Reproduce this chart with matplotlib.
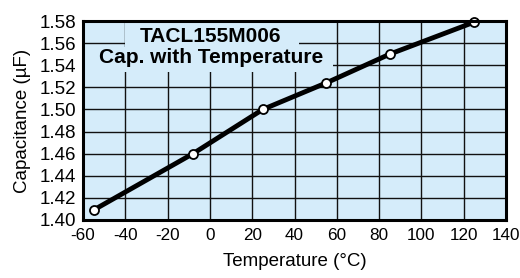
import matplotlib
matplotlib.use("Agg")
import matplotlib.pyplot as plt
from matplotlib.patches import Rectangle

temps = [-55, -8, 25, 55, 85, 125]
caps = [1.409, 1.460, 1.500, 1.524, 1.550, 1.579]
xticks = [-60, -40, -20, 0, 20, 40, 60, 80, 100, 120, 140]
yticks = [1.40, 1.42, 1.44, 1.46, 1.48, 1.50, 1.52, 1.54, 1.56, 1.58]
title_lines = ["TACL155M006", "Cap. with Temperature"]

plt.rcParams['font.family'] = ['Liberation Sans', 'DejaVu Sans']
bg = '#d5ecfa'

fig = plt.figure(figsize=(5.2, 2.78), dpi=100)
ax = fig.add_axes([83/520, 58/278, 423/520, 199/278])
ax.set_facecolor(bg)
ax.set_xlim(-60, 140)
ax.set_ylim(1.40, 1.58)
ax.set_xticks(xticks)
ax.set_xticklabels([str(t) for t in xticks])
ax.set_yticks(yticks)
ax.set_yticklabels([f"{t:.2f}" for t in yticks])
ax.grid(True, color='#111111', linewidth=1.0)
ax.set_axisbelow(True)
ax.tick_params(axis='y', length=0, labelsize=13.5, pad=5)
ax.tick_params(axis='x', length=0, labelsize=12.3, pad=6)
for s in ax.spines.values():
    s.set_linewidth(2.2)
    s.set_zorder(5)

# title backdrop boxes (hide grid behind title)
ax.add_patch(Rectangle((0.099, 0.869), 0.412, 0.131, transform=ax.transAxes,
                       facecolor=bg, edgecolor='none', zorder=1.5))
ax.add_patch(Rectangle((0.0, 0.744), 0.591, 0.125, transform=ax.transAxes,
                       facecolor=bg, edgecolor='none', zorder=1.5))

ax.plot(temps, caps, color='black', linewidth=3.5, zorder=3, clip_on=False,
        marker='o', markersize=6.5, markerfacecolor='white',
        markeredgecolor='black', markeredgewidth=1.3)

ax.text(0.302, 0.893, title_lines[0], transform=ax.transAxes, ha='center', va='baseline',
        fontsize=15, fontweight='bold', zorder=4)
ax.text(0.302, 0.788, title_lines[1], transform=ax.transAxes, ha='center', va='baseline',
        fontsize=15, fontweight='bold', zorder=4)

ax.set_xlabel("Temperature (°C)", fontsize=13.5, labelpad=7)
ax.set_ylabel("Capacitance (µF)", fontsize=13.5, labelpad=6)

fig.savefig("out.png", dpi=100)
